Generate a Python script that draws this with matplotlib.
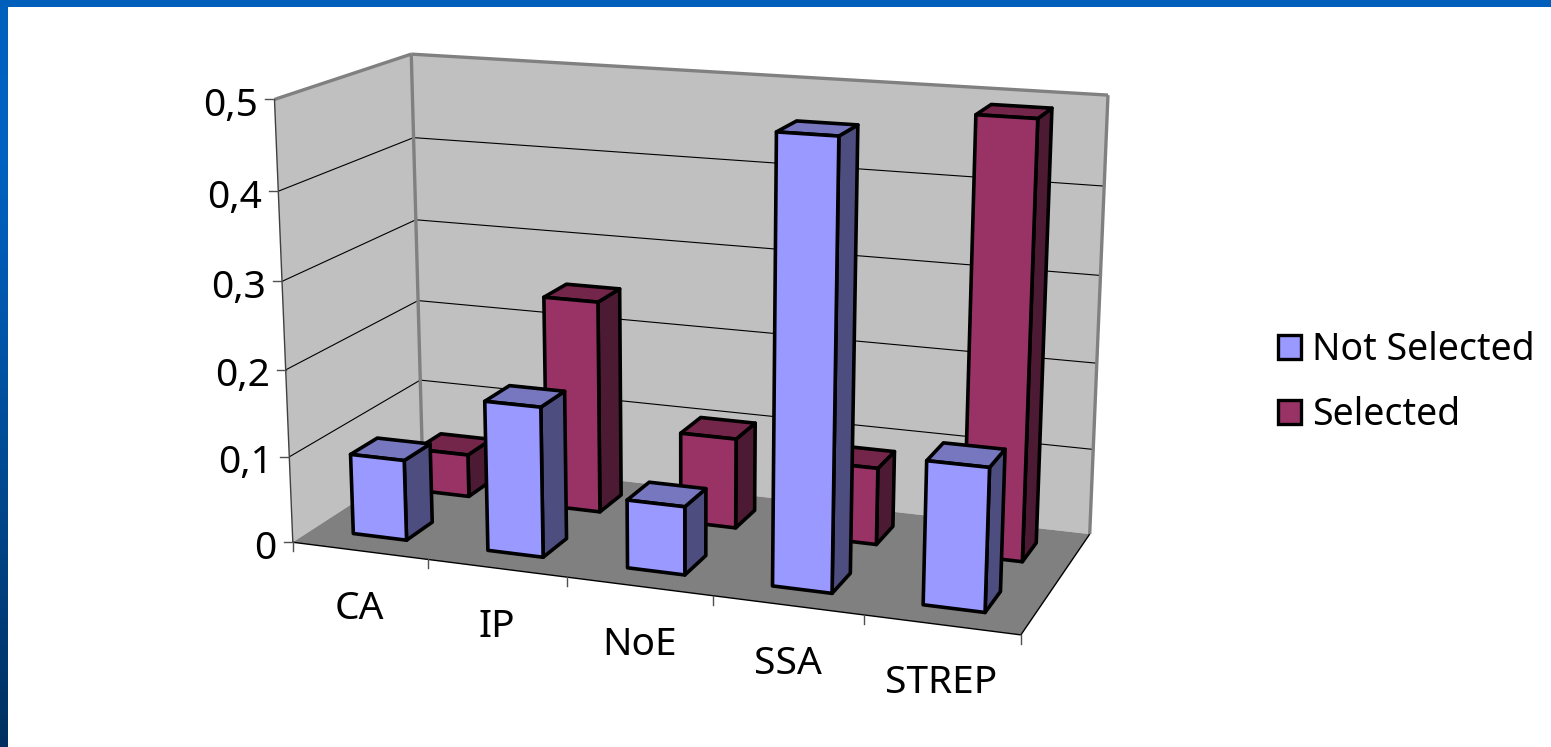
import numpy as np
import matplotlib
matplotlib.use("Agg")
import matplotlib.pyplot as plt
from matplotlib.patches import Polygon, Patch
from matplotlib.colors import LinearSegmentedColormap

categories = ["CA", "IP", "NoE", "SSA", "STREP"]
not_selected = [0.0935, 0.172, 0.0775, 0.491, 0.158]
selected = [0.051, 0.25, 0.1054, 0.089, 0.491]
y_ticks = [0, 0.1, 0.2, 0.3, 0.4, 0.5]
y_tick_labels = ["0", "0,1", "0,2", "0,3", "0,4", "0,5"]

W, H = 1551, 747
plt.rcParams["font.family"] = ["Noto Sans", "DejaVu Sans"]

# Camera calibration: box coordinates (category, depth, value) -> canvas pixels
box_pts = np.array([
    (0, 0, 0), (5, 0, 0), (5, 1, 0), (0, 1, 0),
    (0, 0, .5), (0, 1, .5), (5, 1, .5),
    (0, 0, .4), (0, 0, .3), (0, 0, .2), (0, 0, .1),
    (0, 1, .4), (5, 1, .4), (5, 1, .1),
    (1, 0, 0), (2, 0, 0), (3, 0, 0), (4, 0, 0),
    # reference points on the floor plane
    (.3, .15, 0), (.7, .15, 0), (.7, .35, 0),
    (1.3, .15, 0), (1.7, .15, 0), (1.7, .35, 0),
    (2.3, .15, 0), (2.7, .15, 0), (2.7, .35, 0),
    (3.3, .15, 0), (3.7, .15, 0), (3.7, .35, 0),
    (4.3, .15, 0), (4.7, .15, 0), (4.7, .35, 0),
    (1.7, .65, 0), (1.7, .85, 0), (2.7, .65, 0), (2.7, .85, 0),
    (3.7, .65, 0), (3.7, .85, 0), (4.7, .65, 0), (4.7, .85, 0),
], float)
canvas_pts = np.array([
    (293, 544), (1021, 634), (1090, 533), (424, 462),
    (275, 99), (410, 53), (1108, 96),
    (278, 192), (282, 282), (287, 369), (290, 456),
    (414, 137), (1104, 187), (1094, 450),
    (427, 560), (569, 578), (711, 595), (863, 614),
    (351, 534), (407, 541), (432, 522),
    (488, 549), (544, 558), (566, 537),
    (627, 568), (683, 574), (705, 555),
    (773, 586), (832, 593), (851, 574),
    (925, 605), (987, 614), (1000, 593),
    (599, 512), (622, 493), (736, 527), (755, 509),
    (876, 543), (891, 525), (1021, 562), (1037, 545),
], float)


def fit_camera(world, img):
    rows, rhs = [], []
    for (x, y, z), (u, v) in zip(world, img):
        rows.append([x, y, z, 1, 0, 0, 0, 0, -u * x, -u * y, -u * z])
        rows.append([0, 0, 0, 0, x, y, z, 1, -v * x, -v * y, -v * z])
        rhs += [u, v]
    sol = np.linalg.lstsq(np.array(rows), np.array(rhs), rcond=None)[0]
    return np.append(sol, 1).reshape(3, 4)


CAM = fit_camera(box_pts, canvas_pts)


def project(x, y, z):
    p = CAM @ np.array([x, y, z, 1.0])
    return p[0] / p[2], p[1] / p[2]


fig = plt.figure(figsize=(W / 100, H / 100), dpi=100, facecolor="white")
ax = fig.add_axes([0, 0, 1, 1])
ax.set_xlim(0, W)
ax.set_ylim(H, 0)
ax.axis("off")

# Slide frame: gradient strip on the left, flat strip on top
frame = LinearSegmentedColormap.from_list(
    "frame", ["#0060BE", "#0062C2", "#0058AE", "#004C96", "#003E7C", "#003060"])
ax.imshow(np.linspace(0, 1, 256)[:, None], cmap=frame, aspect="auto",
          extent=(0, 8, H, 0), zorder=1)
ax.fill_between([0, W], 0, 7, color="#005FBB", lw=0, zorder=1)
ax.set_xlim(0, W)
ax.set_ylim(H, 0)


def face(corners, color, z, edge=None, lw=0):
    pts = [project(*c) for c in corners]
    ax.add_patch(Polygon(pts, closed=True, facecolor=color,
                         edgecolor=edge if edge else color, lw=lw,
                         joinstyle="round", zorder=z))


def seg(a, b, color, lw, z=3):
    pa, pb = project(*a), project(*b)
    ax.plot([pa[0], pb[0]], [pa[1], pb[1]], color=color, lw=lw, zorder=z,
            solid_capstyle="butt")


TOP = y_ticks[-1]
NX = len(categories)

# Walls and floor
face([(0, 0, 0), (0, 1, 0), (0, 1, TOP), (0, 0, TOP)], "#C0C0C0", 2)
face([(0, 1, 0), (NX, 1, 0), (NX, 1, TOP), (0, 1, TOP)], "#C0C0C0", 2)
face([(0, 0, 0), (NX, 0, 0), (NX, 1, 0), (0, 1, 0)], "#808080", 2.5)

# Gridlines
for v in y_ticks[1:-1]:
    seg((0, 0, v), (0, 1, v), "black", 0.8)
    seg((0, 1, v), (NX, 1, v), "black", 0.8)

# Wall outlines
seg((0, 0, TOP), (0, 1, TOP), "#808080", 2.4)
seg((0, 1, TOP), (NX, 1, TOP), "#808080", 2.4)
seg((0, 1, TOP), (0, 1, 0), "#808080", 2.4)
seg((NX, 1, TOP), (NX, 1, 0), "#808080", 2.4)
seg((0, 0, TOP), (0, 0, 0), "#404040", 1.0)
seg((0, 0, 0), (NX, 0, 0), "black", 1.0, z=3)
seg((NX, 0, 0), (NX, 1, 0), "black", 1.0, z=3)

# Axis ticks and labels
for v, lab in zip(y_ticks, y_tick_labels):
    px, py = project(0, 0, v)
    ax.plot([px - 9, px], [py, py], color="#505050", lw=1.0, zorder=3)
    ax.text(px - 16, py + 2, lab, ha="right", va="center_baseline",
            fontsize=28, color="black", zorder=6)
for i in range(NX + 1):
    px, py = project(i, 0, 0)
    ax.plot([px, px], [py, py + 9], color="#505050", lw=1.0, zorder=3)
for i, lab in enumerate(categories):
    px, py = project(i + 0.5, 0, 0)
    ax.text(px, py + 54, lab, ha="center", va="center_baseline",
            fontsize=28, color="black", zorder=6)


def draw_bar(i, y0, y1, value, colors, z):
    x0, x1 = i + 0.3, i + 0.7
    front, top, side = colors
    kw = dict(edge="black", lw=2.6)
    face([(x1, y0, 0), (x1, y1, 0), (x1, y1, value), (x1, y0, value)], side, z, **kw)
    face([(x0, y0, value), (x1, y0, value), (x1, y1, value), (x0, y1, value)], top, z, **kw)
    face([(x0, y0, 0), (x1, y0, 0), (x1, y0, value), (x0, y0, value)], front, z, **kw)


BLUE = ("#9999FF", "#7777C0", "#4D4D80")
PLUM = ("#993366", "#732649", "#4D1A33")

# Back row first so the front row overlaps it
for i, v in enumerate(selected):
    draw_bar(i, 0.65, 0.85, v, PLUM, 4 + i * 0.01)
for i, v in enumerate(not_selected):
    draw_bar(i, 0.15, 0.35, v, BLUE, 5 + i * 0.01)

handles = [Patch(facecolor=BLUE[0], edgecolor="black", lw=2.4, label="Not Selected"),
           Patch(facecolor=PLUM[0], edgecolor="black", lw=2.4, label="Selected")]
ax.legend(handles=handles, loc="upper left", bbox_to_anchor=(1278 / W, 1 - 331 / H),
          frameon=False, fontsize=27, handlelength=0.62, handleheight=0.62,
          handletextpad=0.3, labelspacing=0.72, borderpad=0, borderaxespad=0)

fig.savefig("out.png", dpi=100, facecolor="white")
